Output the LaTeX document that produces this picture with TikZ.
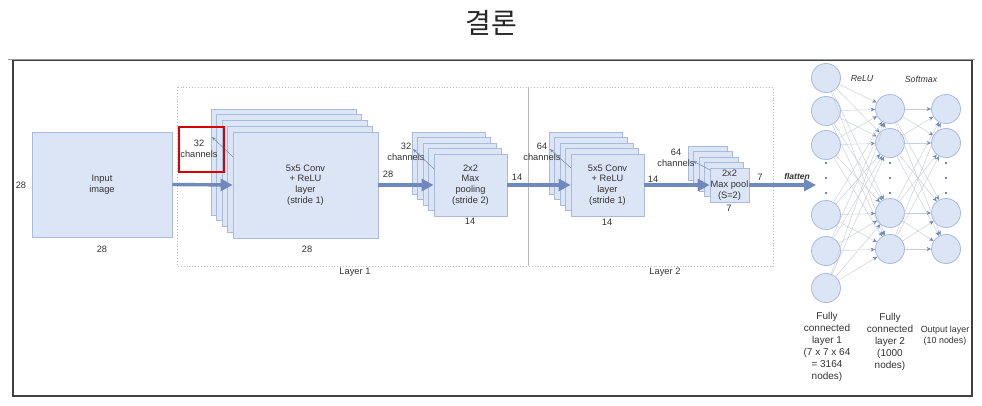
\documentclass[tikz,border=0pt]{standalone}
\usepackage{fontspec}
\setmainfont{Liberation Sans}
\newfontfamily\krfont{Noto Sans CJK KR}
\usetikzlibrary{arrows.meta}
\definecolor{boxfill}{HTML}{DCE5F6}
\definecolor{boxline}{HTML}{A9BADF}
\definecolor{arrowcol}{HTML}{6F88BE}
\definecolor{layerline}{HTML}{BBBBBB}
\definecolor{netcol}{HTML}{C9CED8}
\definecolor{txt}{HTML}{333333}
\begin{document}
\begin{tikzpicture}[x=1pt,y=-1pt,
  box/.style={draw=boxline, fill=boxfill, line width=0.8, inner sep=0},
  lbl/.style={font=\fontsize{9.3}{10.8}\selectfont, align=center, text=txt},
  num/.style={font=\fontsize{9.3}{10.8}\selectfont, text=txt, inner sep=0},
  bigarrow/.style={arrowcol, line width=3.4, -{Triangle[length=12pt,width=12pt]}},
  charrow/.style={arrowcol, line width=0.5, -{Stealth[length=4pt,width=3pt]}},
  circ/.style={circle, draw=boxline, fill=boxfill, line width=0.8, minimum size=29, inner sep=0},
  netline/.style={draw=netcol, line width=0.45, -{Stealth[length=4.5pt,width=4pt,color=arrowcol]}},
  dotmark/.style={fill=arrowcol}
]
\useasboundingbox (0,0) rectangle (982,406);
\fill[white] (0,0) rectangle (982,406);

% title and frame
\node[font=\krfont\fontsize{28}{30}\selectfont, text=black!85] (title) at (491,23) {결론};
\draw[black!75, line width=1.3] (13,60) rectangle (972,396);
\draw[black!40, line width=1.3] (8,59.3) -- (975,59.3);

% layer boxes
\draw[layerline, dotted, line width=0.9] (177,87) rectangle (528,266);
\draw[layerline, dotted, line width=0.9] (528,87) rectangle (773,266);
\draw[layerline, line width=0.8] (528,87) -- (528,266);
\node[num] (lay1) at (355,272) {Layer 1};
\node[num] (lay2) at (665,272) {Layer 2};

% input
\node[box, lbl, minimum width=140, minimum height=105] (input) at (102,184.5) {Input\\image};
\node[num] (in28l) at (21,185) {28};
\node[num] (in28b) at (102,249) {28};

% conv1 stack
\foreach \i in {0,...,3} \draw[box] (211+\i*5.5,109+\i*5.75) rectangle +(145,106);
\node[box, lbl, minimum width=145, minimum height=106] (c1) at (305.5,185) {5x5 Conv\\+ ReLU\\layer\\(stride 1)};
\node[num] (c1b) at (307,249) {28};
\node[num] (c1r) at (388,174) {28};
\node[lbl, inner sep=0] (c1ch) at (199,148.5) {32\\channels};
\coordinate (c1s) at (233,157);
\coordinate (c1t) at (212,137);
\draw[charrow] (c1s) -- (c1t);
\draw[red!85!black, line width=2] (179,127) rectangle (224,172);

% pool1 stack
\foreach \i in {0,...,3} \draw[box] (412+\i*5.5,132+\i*5.5) rectangle +(73,62);
\node[box, lbl, minimum width=73, minimum height=62] (p1) at (470.5,185) {2x2\\Max\\pooling\\(stride 2)};
\node[num] (p1b) at (470,221) {14};
\node[num] (p1r) at (517,177) {14};
\node[lbl, inner sep=0] (p1ch) at (406,151.5) {32\\channels};
\coordinate (p1s) at (434,169);
\coordinate (p1t) at (413,149);
\draw[charrow] (p1s) -- (p1t);

% conv2 stack
\foreach \i in {0,...,3} \draw[box] (549+\i*5.5,132+\i*5.5) rectangle +(73,62);
\node[box, lbl, minimum width=73, minimum height=62] (c2) at (607.5,185) {5x5 Conv\\+ ReLU\\layer\\(stride 1)};
\node[num] (c2b) at (607,222) {14};
\node[num] (c2r) at (653,179) {14};
\node[lbl, inner sep=0] (c2ch) at (542,152) {64\\channels};
\coordinate (c2s) at (571,168);
\coordinate (c2t) at (550,149);
\draw[charrow] (c2s) -- (c2t);

% pool2 stack
\foreach \i in {0,...,3} \draw[box] (688+\i*5.5,146+\i*5.5) rectangle +(39,34);
\node[box, lbl, minimum width=39, minimum height=34] (p2) at (729.5,185) {2x2\\Max pool\\(S=2)};
\node[num] (p2b) at (729,208) {7};
\node[num] (p2r) at (760,177) {7};
\node[lbl, inner sep=0] (p2ch) at (676,157.5) {64\\channels};
\coordinate (p2s) at (710,170);
\coordinate (p2t) at (693,161);
\draw[charrow] (p2s) -- (p2t);

% main arrows
\coordinate (flatend) at (816,185);
\draw[bigarrow] (input.east) -- (c1.west);
\draw[bigarrow] (c1.east) -- (p1.west);
\draw[bigarrow] (p1.east) -- (c2.west);
\draw[bigarrow] (c2.east) -- (p2.west);
\draw[bigarrow] (p2.east) -- (flatend);
\node[font=\fontsize{8.5}{10}\selectfont\bfseries\itshape, text=txt, inner sep=0] (flat) at (797,176) {flatten};

% fully connected layers
\foreach \n/\y in {1/78, 2/111, 3/145, 4/215, 5/251, 6/288}
  \node[circ] (a\n) at (826,\y) {};
\foreach \n/\y in {1/109, 2/143, 3/213, 4/249}
  \node[circ] (b\n) at (890,\y) {};
\foreach \n/\y in {1/109, 2/143, 3/213, 4/249}
  \node[circ] (o\n) at (946,\y) {};
\foreach \i in {1,...,6}
  \foreach \j in {1,...,4}
    \draw[netline] (a\i) -- (b\j);
\foreach \i in {1,...,4}
  \foreach \j in {1,...,4}
    \draw[netline] (b\i) -- (o\j);
\foreach \x in {826,890,946}
  \foreach \y in {163,178,193}
    \fill[dotmark] (\x-1.2,\y-1.2) rectangle +(2.4,2.4);

\node[font=\fontsize{8.8}{10}\selectfont\itshape, text=txt] (relu) at (862,79) {ReLU};
\node[font=\fontsize{8.8}{10}\selectfont\itshape, text=txt] (soft) at (921,79) {Softmax};

\node[font=\fontsize{10}{12}\selectfont, align=center, text=txt] (fc1l) at (827,347) {Fully\\connected\\layer 1\\(7 x 7 x 64\\= 3164\\nodes)};
\node[font=\fontsize{10}{12}\selectfont, align=center, text=txt] (fc2l) at (890,342) {Fully\\connected\\layer 2\\(1000\\nodes)};
\node[font=\fontsize{8.9}{11}\selectfont, align=center, text=txt] (outl) at (945,335.5) {Output layer\\(10 nodes)};
\end{tikzpicture}
\end{document}
